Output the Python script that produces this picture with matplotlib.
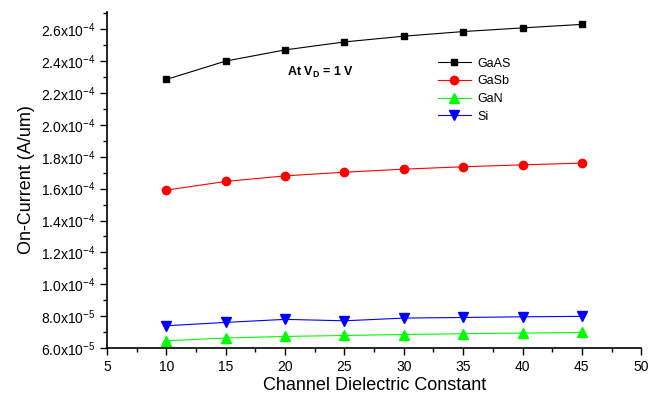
import matplotlib
matplotlib.use("Agg")
import matplotlib.pyplot as plt
from matplotlib.ticker import MultipleLocator, FuncFormatter

plt.rcParams['font.family'] = ['Liberation Sans', 'DejaVu Sans']
plt.rcParams['mathtext.fontset'] = 'custom'
plt.rcParams['mathtext.rm'] = 'Liberation Sans'

# Channel dielectric constant
k = [10, 15, 20, 25, 30, 35, 40, 45]

# On-current (A/um)
gaas = [2.285e-4, 2.40e-4, 2.47e-4, 2.52e-4, 2.556e-4, 2.585e-4, 2.608e-4, 2.63e-4]
gasb = [1.591e-4, 1.645e-4, 1.68e-4, 1.703e-4, 1.722e-4, 1.737e-4, 1.749e-4, 1.76e-4]
gan = [6.46e-5, 6.63e-5, 6.73e-5, 6.79e-5, 6.85e-5, 6.90e-5, 6.94e-5, 6.98e-5]
si = [7.40e-5, 7.61e-5, 7.80e-5, 7.71e-5, 7.88e-5, 7.92e-5, 7.96e-5, 7.99e-5]

fig = plt.figure(figsize=(6.49, 4.01), dpi=100)
ax = fig.add_axes([0.165, 0.132, 0.823, 0.839])

ax.plot(k, gaas, color='black', marker='s', ms=5, lw=0.8, label='GaAS')
ax.plot(k, gasb, color='red', marker='o', ms=6, lw=0.8, label='GaSb')
ax.plot(k, gan, color='#00ff00', marker='^', ms=7, lw=0.8, label='GaN')
ax.plot(k, si, color='blue', marker='v', ms=7, lw=0.8, label='Si')

ax.set_xlim(5, 50)
ax.set_ylim(6e-5, 2.71e-4)
ax.xaxis.set_major_locator(MultipleLocator(5))
ax.xaxis.set_minor_locator(MultipleLocator(2.5))
ax.yaxis.set_major_locator(MultipleLocator(2e-5))
ax.yaxis.set_minor_locator(MultipleLocator(1e-5))


def sci_fmt(v, _):
    if v <= 0:
        return ''
    e = 0
    m = v
    while m < 1:
        m *= 10
        e -= 1
    return f'{m:.1f}x10$^{{{e}}}$'


ax.yaxis.set_major_formatter(FuncFormatter(sci_fmt))

for s in ['top', 'right']:
    ax.spines[s].set_visible(False)
for s in ['left', 'bottom']:
    ax.spines[s].set_linewidth(1.2)
ax.tick_params(which='major', direction='out', length=5, width=1, labelsize=10)
ax.tick_params(which='minor', direction='out', length=3, width=1)

ax.set_xlabel('Channel Dielectric Constant', fontsize=13, labelpad=2)
ax.set_ylabel('On-Current (A/um)', fontsize=13, labelpad=4)

ax.text(0.337, 0.82, r'At V$_\mathregular{D}$ = 1 V', transform=ax.transAxes,
        fontsize=9, fontweight='bold', va='center')

ax.legend(loc='upper left', bbox_to_anchor=(0.62, 0.863), frameon=False,
          borderpad=0, borderaxespad=0, fontsize=9, handlelength=2.6,
          labelspacing=0.45, handletextpad=0.5)

fig.savefig('out.png', dpi=100)
